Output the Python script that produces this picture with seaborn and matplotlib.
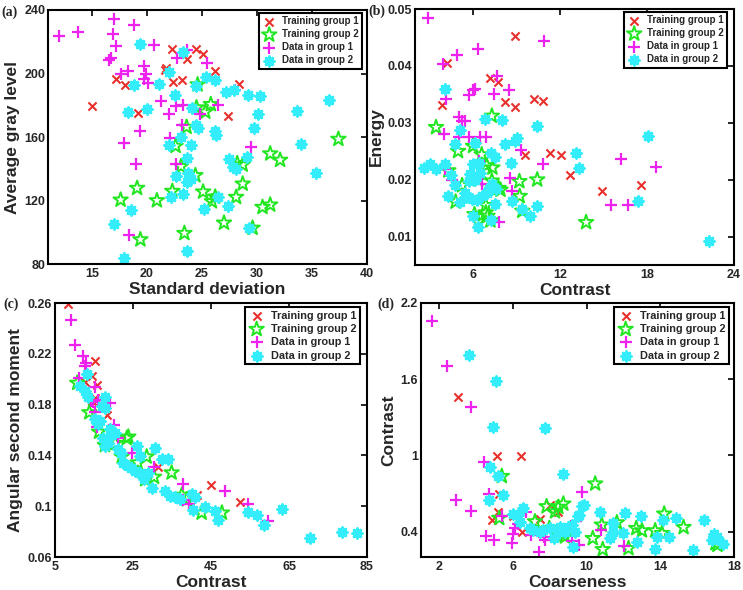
import matplotlib
matplotlib.use("Agg")
import matplotlib.pyplot as plt
import seaborn as sns
from matplotlib.ticker import FormatStrFormatter

# ---------------- (a) average gray level vs standard deviation
a_t1_x = [15.0, 17.2, 18.0, 19.2, 21.6, 21.7, 22.3, 22.4, 23.2, 23.6, 24.5, 25.1, 26.2, 28.4, 27.4]
a_t1_y = [179.4, 196.4, 193.0, 175.4, 202.0, 203.5, 215.6, 194.5, 195.8, 209.0, 215.4, 212.2, 201.5, 193.7, 173.5]
a_t2_x = [24.6, 24.5, 25.3, 25.8, 23.6, 22.6, 23.1, 24.4, 19.1, 17.6, 20.9, 22.3, 25.1, 25.9,
          26.2, 28.1, 28.7, 28.2, 28.7, 27.0, 23.4, 19.4, 29.6, 30.5, 31.2, 31.2, 32.1, 37.4]
a_t2_y = [193.0, 178.5, 175.8, 180.6, 166.3, 154.3, 141.5, 135.8, 127.8, 120.4, 120.0, 125.9, 125.5, 119.4,
          122.3, 122.1, 130.5, 143.4, 142.5, 105.9, 99.4, 95.4, 102.7, 115.8, 117.3, 149.5, 145.5, 158.7]
a_d1_x = [12.0, 13.7, 17.0, 18.8, 16.9, 17.2, 16.5, 16.7, 17.6, 18.3, 19.7, 19.9, 19.7, 20.1, 20.6, 21.3, 22.0,
          22.6, 23.3, 22.7, 23.6, 25.5, 24.8, 26.5, 23.2, 22.1, 17.9, 19.4, 19.0, 22.6, 29.5, 18.4, 28.0]
a_d1_y = [223.6, 226.3, 234.1, 230.5, 224.8, 217.5, 208.8, 209.8, 199.6, 201.7, 204.8, 200.0, 196.8, 194.1, 217.9,
          182.7, 174.7, 179.4, 180.0, 209.9, 214.7, 206.3, 174.5, 180.0, 167.4, 159.6, 156.2, 163.8, 142.7, 142.7,
          153.7, 98.3, 189.5]
a_d2_x = [19.4, 23.3, 22.0, 18.8, 21.1, 25.4, 26.2, 24.5, 22.5, 27.2, 27.9, 29.2, 30.3, 18.3, 20.0, 24.1, 24.5,
          24.6, 26.2, 26.3, 23.1, 22.0, 24.0, 23.6, 29.1, 29.7, 30.1, 33.6, 36.5, 34.0, 35.4, 27.5, 27.8, 28.1,
          22.6, 23.7, 23.6, 24.0, 23.3, 22.2, 26.5, 25.2, 27.4, 18.5, 17.0, 29.3, 17.9, 23.6]
a_d2_y = [218.5, 213.5, 201.0, 193.0, 193.7, 197.5, 195.8, 192.0, 186.7, 188.2, 189.9, 186.3, 185.7, 175.6, 177.9,
          178.3, 167.4, 165.5, 163.6, 161.1, 160.0, 155.2, 154.7, 147.0, 147.4, 165.9, 174.7, 176.2, 183.6, 155.4,
          137.5, 146.3, 141.0, 140.0, 135.4, 137.5, 131.6, 133.7, 124.2, 122.1, 122.5, 114.7, 116.4, 114.1, 105.3,
          102.5, 83.6, 88.0]

# ---------------- (b) energy vs contrast
b_t1_x = [8.87, 4.19, 3.84, 7.14, 7.71, 8.22, 8.87, 10.2, 10.8, 9.56, 11.3, 12.1, 12.7, 14.9, 17.6]
b_t1_y = [0.0453, 0.0405, 0.0332, 0.0378, 0.0372, 0.0336, 0.0327, 0.0342, 0.0339, 0.0244, 0.0247, 0.0243,
          0.0209, 0.018, 0.0191]
b_t2_x = [3.45, 7.3, 4.97, 6.0, 6.6, 6.95, 7.34, 4.3, 5.25, 6.36, 7.3, 7.76, 7.9, 9.2, 10.43, 9.22, 4.8, 6.88,
          6.88, 7.0, 6.1, 6.36, 7.2, 9.4, 13.8]
b_t2_y = [0.0292, 0.0312, 0.025, 0.0259, 0.0244, 0.0225, 0.0221, 0.0216, 0.019, 0.02, 0.0198, 0.0185, 0.0182,
          0.0197, 0.02, 0.0171, 0.0161, 0.0155, 0.0142, 0.0136, 0.0139, 0.0126, 0.0128, 0.0145, 0.0125]
b_d1_x = [2.88, 10.87, 6.33, 4.88, 3.91, 7.67, 7.48, 8.45, 6.15, 6.03, 5.73, 4.12, 5.0, 5.23, 5.46, 4.0, 5.0,
          5.7, 6.5, 6.9, 9.3, 6.42, 10.82, 6.6, 8.55, 7.8, 15.5, 16.7, 16.2, 18.6, 4.09, 4.55, 8.69]
b_d1_y = [0.0484, 0.0443, 0.0429, 0.0419, 0.0403, 0.0382, 0.0351, 0.0357, 0.036, 0.0357, 0.0348, 0.0341, 0.0311,
          0.0303, 0.0304, 0.028, 0.0275, 0.0275, 0.0275, 0.0275, 0.0252, 0.0233, 0.0227, 0.0192, 0.0203, 0.0125,
          0.0155, 0.0155, 0.0236, 0.0223, 0.0219, 0.0200, 0.018]
b_d2_x = [4.07, 8.0, 6.8, 10.4, 9.04, 8.92, 8.22, 5.09, 4.74, 6.13, 13.1, 13.3, 18.1, 17.4, 22.3, 2.6, 3.0, 3.46,
          4.09, 4.5, 4.74, 4.27, 5.09, 5.44, 5.8, 6.0, 6.4, 6.5, 7.07, 7.25, 7.53, 7.3, 7.6, 8.59, 7.5, 8.69, 9.39,
          9.96, 10.4, 6.0, 6.36, 7.25, 5.9, 6.3, 6.6, 6.95, 5.5, 6.15, 5.7, 7.06]
b_d2_y = [0.0359, 0.0305, 0.0306, 0.0294, 0.0274, 0.0268, 0.0263, 0.0288, 0.0262, 0.0265, 0.0247, 0.022, 0.0277,
          0.0162, 0.0092, 0.0221, 0.0227, 0.0218, 0.0228, 0.0209, 0.019, 0.0171, 0.016, 0.0177, 0.021, 0.0227,
          0.023, 0.0212, 0.0183, 0.0247, 0.0239, 0.0192, 0.0184, 0.023, 0.0157, 0.0162, 0.0148, 0.0136, 0.0154,
          0.0136, 0.0116, 0.0129, 0.0166, 0.0165, 0.0171, 0.0177, 0.0169, 0.02, 0.0198, 0.018]

# ---------------- (c) angular second moment vs contrast
c_t1_x = [8.4, 15.3, 14.4, 12.7, 15.7, 15.3, 14.4, 45.0, 52.5, 18.3, 31.3, 41.4]
c_t1_y = [0.2595, 0.2147, 0.2028, 0.1975, 0.1957, 0.1852, 0.1825, 0.1164, 0.1035, 0.1717, 0.131, 0.109]
c_t2_x = [10.7, 13.8, 16.3, 17.8, 20.4, 23.8, 23.4, 22.1, 26.2, 28.5, 28.1, 30.4, 34.9, 37.5, 38.8, 42.6, 47.8]
c_t2_y = [0.197, 0.1738, 0.1585, 0.148, 0.1496, 0.1546, 0.1535, 0.139, 0.1343, 0.139, 0.1211, 0.123, 0.1264,
          0.1088, 0.1053, 0.0948, 0.0948]
c_d1_x = [9.0, 10.1, 12.3, 12.9, 12.7, 11.2, 15.3, 14.8, 15.9, 19.1, 15.3, 15.7, 20.0, 21.2, 24.7, 30.5, 37.8,
          48.6, 37.8, 39.3, 54.6, 59.7, 14.2]
c_d1_y = [0.2468, 0.2273, 0.2186, 0.2126, 0.2107, 0.2007, 0.1936, 0.182, 0.1838, 0.1812, 0.1738, 0.162, 0.1638,
          0.154, 0.1422, 0.1305, 0.1177, 0.1119, 0.1048, 0.1014, 0.1014, 0.0887, 0.1825]
c_d2_x = [13.1, 11.4, 12.7, 13.5, 17.7, 17.0, 17.8, 15.3, 16.5, 19.1, 17.4, 18.7, 19.5, 17.8, 21.2, 26.0, 22.5,
          23.8, 26.8, 30.7, 25.5, 26.8, 27.7, 29.8, 32.4, 33.9, 33.2, 34.5, 35.8, 40.1, 40.9, 40.3, 43.5, 45.9,
          46.9, 54.6, 56.8, 58.5, 63.2, 70.3, 78.6, 82.4, 16.0, 20.3, 24.5, 28.8, 37.0, 18.5, 22.0]
c_d2_y = [0.2041, 0.1949, 0.1909, 0.1857, 0.1857, 0.179, 0.177, 0.1685, 0.1672, 0.1606, 0.154, 0.1527, 0.1567,
          0.1474, 0.1448, 0.1474, 0.1343, 0.1316, 0.1395, 0.1462, 0.1277, 0.1264, 0.1211, 0.1145, 0.1369, 0.1369,
          0.1119, 0.1079, 0.1072, 0.1093, 0.1072, 0.0974, 0.0995, 0.0966, 0.0895, 0.0953, 0.0929, 0.085, 0.0979,
          0.0747, 0.0795, 0.0787, 0.165, 0.158, 0.130, 0.126, 0.106, 0.150, 0.142]

# ---------------- (d) contrast vs coarseness
d_t1_x = [3.0, 5.14, 6.43, 5.21, 5.18, 4.85, 6.48, 7.48, 8.02, 8.42, 6.0]
d_t1_y = [1.461, 0.999, 0.999, 0.696, 0.558, 0.49, 0.395, 0.5, 0.606, 0.558, 0.519]
d_t2_x = [5.39, 10.46, 8.73, 7.82, 8.28, 8.46, 7.19, 5.25, 7.97, 8.7, 8.82, 10.82, 10.33, 10.87, 11.64, 12.27,
          12.69, 13.0, 13.72, 14.09, 14.21, 15.26, 16.99, 17.1]
d_t2_y = [0.836, 0.777, 0.619, 0.598, 0.558, 0.593, 0.479, 0.506, 0.426, 0.374, 0.36, 0.453, 0.347, 0.26, 0.471,
          0.268, 0.426, 0.408, 0.408, 0.387, 0.54, 0.434, 0.308, 0.294]
d_d1_x = [1.58, 2.4, 3.7, 4.43, 2.89, 3.69, 4.67, 9.75, 5.39, 6.7, 4.52, 4.94, 5.94, 6.0, 6.1, 6.25, 6.99, 7.39,
          7.75, 7.7, 9.42, 9.2, 9.56, 10.75, 12.0]
d_d1_y = [2.058, 1.706, 1.382, 0.949, 0.645, 0.564, 0.696, 0.709, 0.519, 0.553, 0.368, 0.334, 0.308, 0.379, 0.432,
          0.458, 0.374, 0.242, 0.334, 0.36, 0.485, 0.329, 0.294, 0.413, 0.289]
d_d2_x = [3.58, 5.07, 4.9, 7.72, 4.76, 5.17, 8.71, 5.43, 4.7, 6.55, 6.01, 6.25, 6.37, 6.93, 7.1, 7.48, 7.64, 8.0,
          8.55, 9.0, 9.37, 9.2, 9.6, 9.73, 9.84, 9.55, 8.2, 9.28, 10.73, 11.45, 11.42, 11.24, 12.09, 11.96, 12.96,
          12.72, 13.72, 13.81, 14.14, 14.47, 14.87, 15.77, 16.39, 16.93, 17.08, 17.41, 16.83, 8.48, 8.84]
d_d2_y = [1.791, 1.582, 1.223, 1.218, 0.907, 0.836, 0.854, 0.69, 0.645, 0.585, 0.54, 0.527, 0.479, 0.426, 0.413,
          0.4, 0.413, 0.426, 0.44, 0.44, 0.4, 0.453, 0.532, 0.598, 0.611, 0.519, 0.353, 0.281, 0.558, 0.466, 0.4,
          0.347, 0.545, 0.387, 0.519, 0.321, 0.26, 0.36, 0.492, 0.355, 0.511, 0.255, 0.492, 0.382, 0.36, 0.302,
          0.334, 0.4, 0.395]

labels = ["Training group 1", "Training group 2", "Data in group 1", "Data in group 2"]

sns.set_theme(style="white")
plt.rcParams['font.family'] = ['Liberation Sans', 'DejaVu Sans']
plt.rcParams['font.weight'] = 'bold'
plt.rcParams['axes.labelweight'] = 'bold'

RED, GREEN, MAG, CYAN = '#e8302c', '#22e622', '#ee22ee', '#33eefa'
styles = [
    dict(marker='x', color=RED, s=34, linewidth=1.5),
    dict(marker='*', facecolor='none', edgecolor=GREEN, s=120, linewidth=1.4),
    dict(marker='+', color=MAG, s=75, linewidth=1.6),
    dict(marker=(8, 2, 0), color=CYAN, s=46, linewidth=2.1),
]

panels = [
    dict(groups=[(a_t1_x, a_t1_y), (a_t2_x, a_t2_y), (a_d1_x, a_d1_y), (a_d2_x, a_d2_y)],
         rect=(48, 10, 367, 264), xlim=(11, 40), ylim=(80, 240),
         xticks=[15, 20, 25, 30, 35, 40], yticks=[80, 120, 160, 200, 240], yfmt='%g',
         xlabel='Standard deviation', ylabel='Average gray level', tag='(a)', tagpos=(1, 12),
         leg_off=(5, 3), leg_fs=7),
    dict(groups=[(b_t1_x, b_t1_y), (b_t2_x, b_t2_y), (b_d1_x, b_d1_y), (b_d2_x, b_d2_y)],
         rect=(415, 9, 734, 265), xlim=(2, 24), ylim=(0.005, 0.05),
         xticks=[6, 12, 18, 24], yticks=[0.01, 0.02, 0.03, 0.04, 0.05], yfmt='%.2f',
         xlabel='Contrast', ylabel='Energy', tag='(b)', tagpos=(368, 11),
         leg_off=(7, 3), leg_fs=7),
    dict(groups=[(c_t1_x, c_t1_y), (c_t2_x, c_t2_y), (c_d1_x, c_d1_y), (c_d2_x, c_d2_y)],
         rect=(55, 303, 367, 557), xlim=(5, 85), ylim=(0.06, 0.26),
         xticks=[5, 25, 45, 65, 85], yticks=[0.06, 0.1, 0.14, 0.18, 0.22, 0.26], yfmt='%g',
         xlabel='Contrast', ylabel='Angular second moment', tag='(c)', tagpos=(3, 304),
         leg_off=(7, 4), leg_fs=7.8),
    dict(groups=[(d_t1_x, d_t1_y), (d_t2_x, d_t2_y), (d_d1_x, d_d1_y), (d_d2_x, d_d2_y)],
         rect=(421, 303, 734, 557), xlim=(1, 18), ylim=(0.2, 2.2),
         xticks=[2, 6, 10, 14, 18], yticks=[0.4, 1, 1.6, 2.2], yfmt='%g',
         xlabel='Coarseness', ylabel='Contrast', tag='(d)', tagpos=(377, 304),
         leg_off=(5, 4), leg_fs=7.8),
]

W, H = 743, 590
fig = plt.figure(figsize=(W / 100, H / 100), dpi=100)

for p in panels:
    x0, y0, x1, y1 = p['rect']
    ax = fig.add_axes([x0 / W, 1 - y1 / H, (x1 - x0) / W, (y1 - y0) / H])
    for (gx, gy), st, lab in zip(p['groups'], styles, labels):
        sns.scatterplot(x=gx, y=gy, ax=ax, label=lab, legend=False, **st)
    ax.set_xlim(*p['xlim'])
    ax.set_ylim(*p['ylim'])
    ax.set_xticks(p['xticks'])
    ax.set_yticks(p['yticks'])
    ax.yaxis.set_major_formatter(FormatStrFormatter(p['yfmt']))
    ax.tick_params(direction='in', top=True, right=True, length=4, width=1.2,
                   labelsize=9, pad=3, color='black')
    ax.tick_params(axis='y', pad=2)
    for lbl in ax.get_xticklabels() + ax.get_yticklabels():
        lbl.set_fontweight('bold')
    for sp in ax.spines.values():
        sp.set_linewidth(1.5)
        sp.set_color('black')
    ax.set_xlabel(p['xlabel'], fontsize=12.5, fontweight='bold', labelpad=1)
    ax.set_ylabel(p['ylabel'], fontsize=12.5, fontweight='bold', labelpad=3)

    pw, ph = x1 - x0, y1 - y0
    ox, oy = p['leg_off']
    leg = ax.legend(loc='upper right', bbox_to_anchor=(1 - ox / pw, 1 - oy / ph),
                    borderaxespad=0, prop={'weight': 'bold', 'size': p['leg_fs']},
                    frameon=True, fancybox=False, framealpha=1, edgecolor='black',
                    borderpad=0.35, labelspacing=0.3, handlelength=1.4,
                    handletextpad=0.6, scatterpoints=1)
    leg.get_frame().set_linewidth(1.5)

    tx, ty = p['tagpos']
    fig.text(tx / W, 1 - ty / H, p['tag'], family='Liberation Serif', fontweight='bold',
             fontsize=10, ha='left', va='center')

fig.savefig('out.png', dpi=100)
